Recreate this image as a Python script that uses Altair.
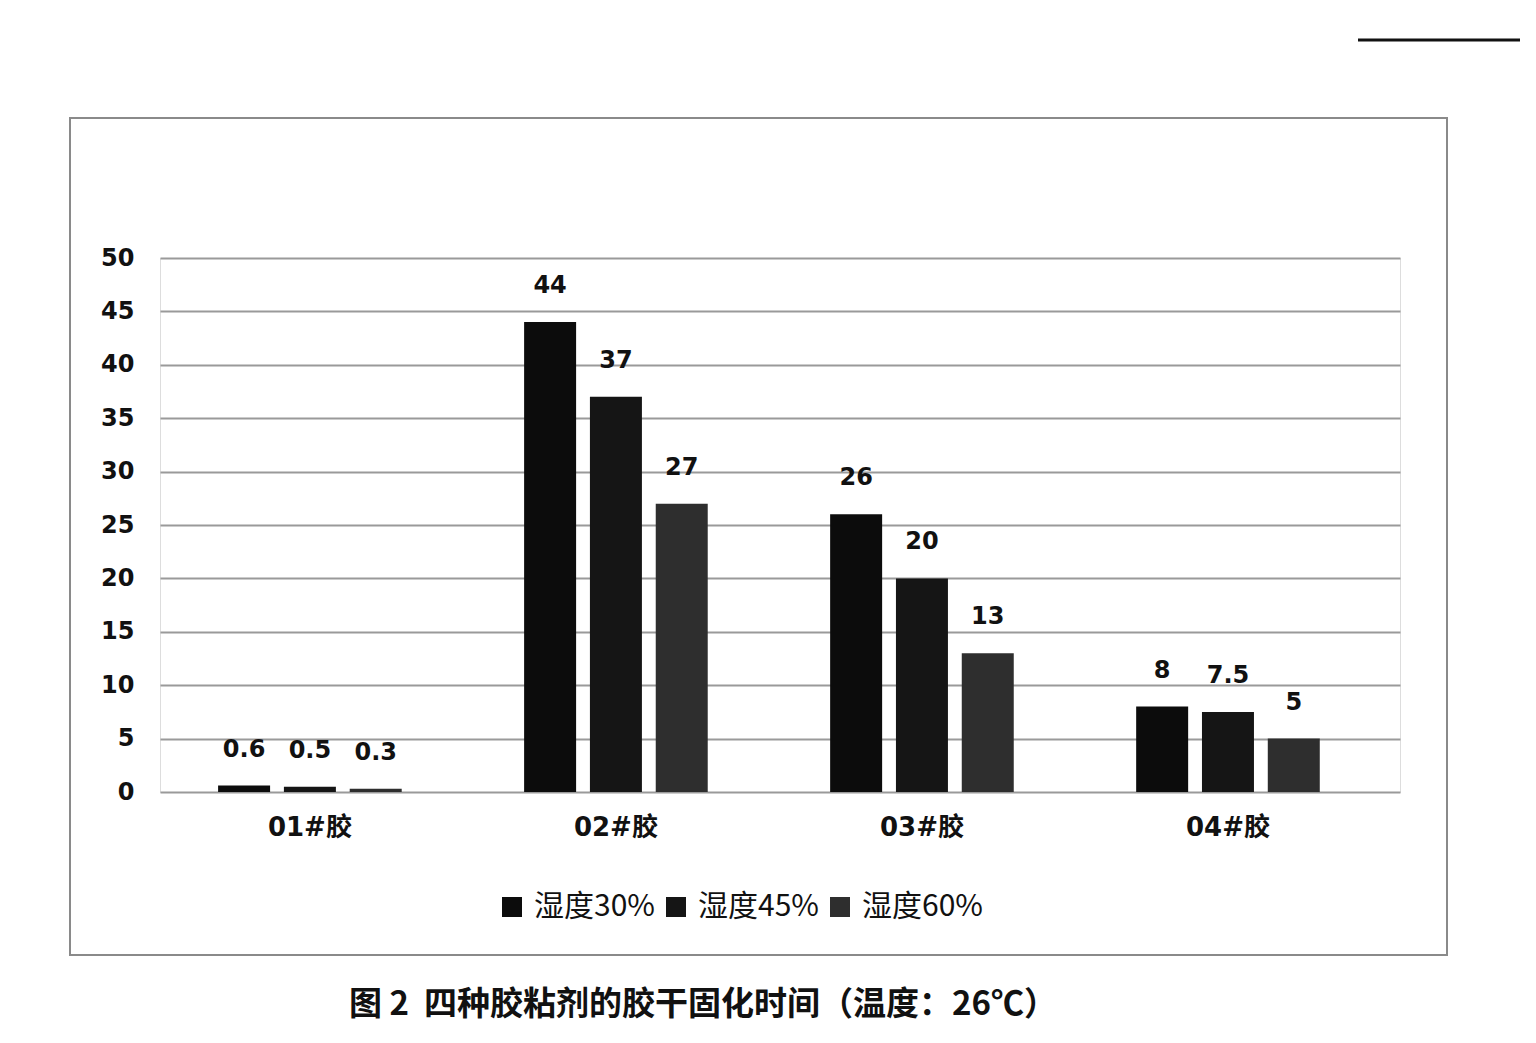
import altair as alt
import pandas as pd

categories = ["01#胶", "02#胶", "03#胶", "04#胶"]
series = ["湿度30%", "湿度45%", "湿度60%"]
v30 = [0.6, 44, 26, 8]
v45 = [0.5, 37, 20, 7.5]
v60 = [0.3, 27, 13, 5]
colors = ["#0c0c0c", "#151515", "#2e2e2e"]
y_ticks = [0, 5, 10, 15, 20, 25, 30, 35, 40, 45, 50]
caption = "图 2\u00a0\u00a0四种胶粘剂的胶干固化时间（温度：26℃）"

rows = []
for i, c in enumerate(categories):
    for s, vals in zip(series, [v30, v45, v60]):
        rows.append({"cat": c, "series": s, "value": vals[i]})
df = pd.DataFrame(rows)

W, H = 1240, 534
LAB_FONT = "DejaVu Sans, Noto Sans CJK SC"

base = alt.Chart(df).encode(
    x=alt.X("cat:N", sort=categories, title=None,
            scale=alt.Scale(paddingInner=0.4, paddingOuter=0.226, align=0.42),
            axis=alt.Axis(labelAngle=0, ticks=False, domain=False, labelPadding=22,
                          labelFont=LAB_FONT, labelFontSize=26, labelFontWeight="bold",
                          labelColor="#111", grid=False)),
    xOffset=alt.XOffset("series:N", sort=series,
                        scale=alt.Scale(paddingInner=0.21, paddingOuter=0)),
)

bars = base.mark_bar().encode(
    y=alt.Y("value:Q", title=None,
            scale=alt.Scale(domain=[0, 50], nice=False),
            axis=alt.Axis(values=y_ticks, ticks=False, domain=False, labelPadding=26,
                          labelFont="DejaVu Sans", labelFontSize=24, labelFontWeight="bold",
                          labelColor="#111", gridColor="#9a9a9a", gridWidth=2)),
    color=alt.Color("series:N", sort=series,
                    scale=alt.Scale(domain=series, range=colors),
                    legend=alt.Legend(title=None, orient="none", direction="horizontal",
                                      legendX=337, legendY=634,
                                      symbolType="square", symbolSize=400,
                                      symbolStrokeWidth=0, symbolOpacity=1,
                                      labelFont="Noto Sans CJK SC", labelFontSize=30,
                                      labelColor="#111", columnPadding=6,
                                      labelOffset=7, labelLimit=300)),
)

labels = base.mark_text(baseline="middle", dy=-36, font="DejaVu Sans",
                        fontSize=24, fontWeight="bold", color="#111").encode(
    y=alt.Y("value:Q"),
    text=alt.Text("value:Q"),
)

frame_df = pd.DataFrame({"k": [1]})
frame = alt.Chart(frame_df).mark_rect(fill=None, stroke="#8a8a8a", strokeWidth=2).encode(
    x=alt.value(-90), x2=alt.value(1287), y=alt.value(-140), y2=alt.value(697)
)
top_rule = alt.Chart(frame_df).mark_rule(color="#111", strokeWidth=3).encode(
    x=alt.value(1198), x2=alt.value(1362), y=alt.value(-218)
)
cap = alt.Chart(pd.DataFrame({"t": [caption]})).mark_text(
    font="Noto Sans CJK SC", fontSize=33, fontWeight="bold", color="#111",
    align="center", baseline="middle"
).encode(x=alt.value(543), y=alt.value(747), text="t:N")

chart = alt.layer(frame, top_rule, bars, labels, cap).properties(
    width=W, height=H,
    autosize=alt.AutoSizeParams(type="none"),
    padding={"left": 152, "top": 250, "right": 120, "bottom": 240},
).configure_view(stroke=None).configure(background="white")

chart.save("out.html", embed_options={"renderer": "svg", "actions": False})
